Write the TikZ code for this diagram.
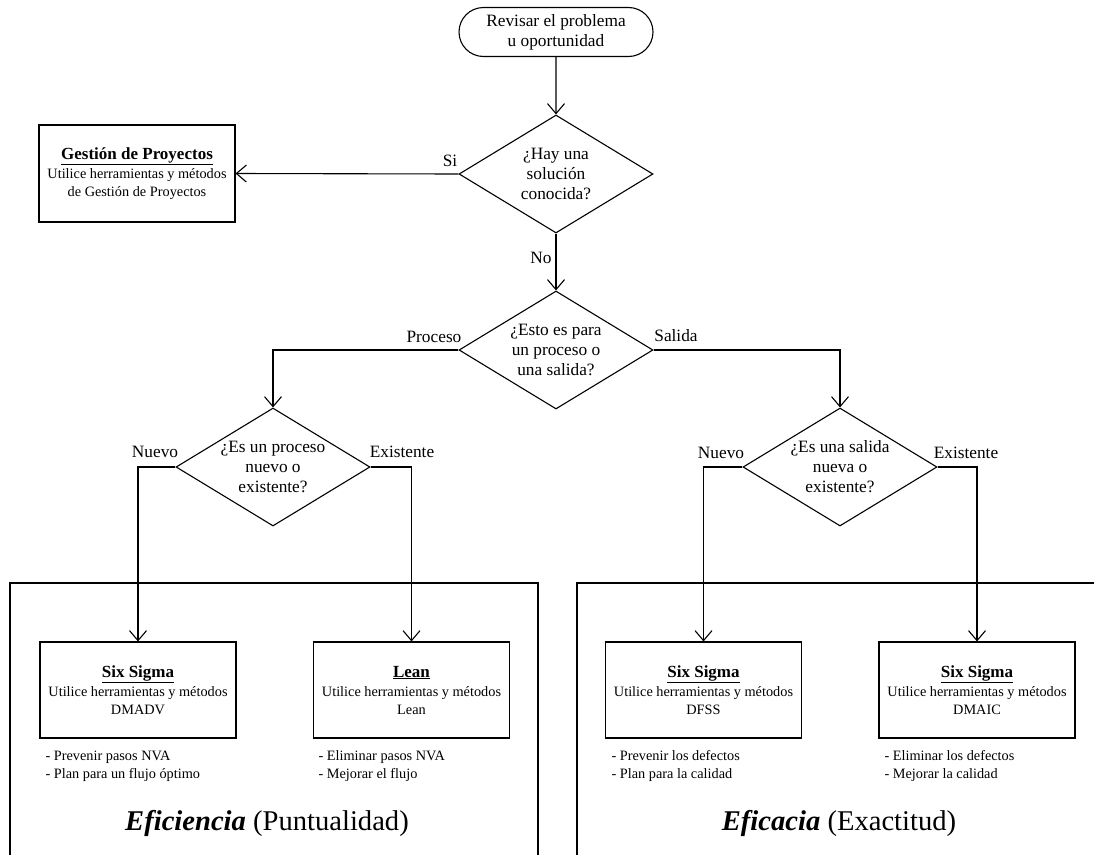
\documentclass[tikz,border=0pt]{standalone}
\usepackage{fontspec}
\setmainfont{Liberation Serif}
\usetikzlibrary{arrows.meta,shapes.geometric,shapes.misc}

\begin{document}
\begin{tikzpicture}[x=1pt,y=-1pt,line width=1.1pt,
  every node/.style={inner sep=0pt},
  txt/.style={font=\fontsize{17.3}{20}\selectfont,align=center},
  small/.style={font=\fontsize{14.3}{18}\selectfont,align=center},
  terminal/.style={draw,rounded rectangle,minimum width=194pt,minimum height=49pt,txt},
  decision/.style={draw,diamond,minimum width=194pt,minimum height=118pt},
  method/.style={draw,rectangle,minimum width=196pt,minimum height=96pt,small},
  bullets/.style={small,align=left,anchor=west},
  lbl/.style={txt},
  arr/.style={-{Straight Barb[length=10pt,width=17pt]}},
  big/.style={font=\fontsize{28.6}{34}\selectfont}
]
\newcommand{\ttl}[1]{{\fontsize{17}{21}\selectfont\bfseries\underline{#1}}}

\useasboundingbox (0,0) rectangle (1094,854);
\clip (0,0) rectangle (1094,854);

% start and decisions
\node[terminal] (start) at (556,32) {Revisar el problema\\u oportunidad};
\node[decision,label={[txt]center:{¿Hay una\\solución\\conocida?}}] (known) at (556,174) {};
\node[decision,label={[txt]center:{¿Esto es para\\un proceso o\\una salida?}}] (kind) at (556,350) {};
\node[decision,label={[txt]center:{¿Es un proceso\\nuevo o\\existente?}}] (proc) at (273,467) {};
\node[decision,label={[txt]center:{¿Es una salida\\nueva o\\existente?}}] (out) at (840,467) {};

% project management
\node[method,minimum height=97pt] (pm) at (137,173.5)
  {\ttl{Gestión de Proyectos}\\[1pt]Utilice herramientas y métodos\\de Gestión de Proyectos};

% bottom panels
\draw (10,583) rectangle (538,900);
\draw (577,583) rectangle (1150,900);

% method boxes
\node[method] (dmadv) at (138,690) {\ttl{Six Sigma}\\[1pt]Utilice herramientas y métodos\\DMADV};
\node[method] (lean) at (411.5,690) {\ttl{Lean}\\[1pt]Utilice herramientas y métodos\\Lean};
\node[method] (dfss) at (703.5,690) {\ttl{Six Sigma}\\[1pt]Utilice herramientas y métodos\\DFSS};
\node[method] (dmaic) at (977,690) {\ttl{Six Sigma}\\[1pt]Utilice herramientas y métodos\\DMAIC};

% bullet notes
\node[bullets] (n1) at (45,766) {- Prevenir pasos NVA\\- Plan para un flujo óptimo};
\node[bullets] (n2) at (318,766) {- Eliminar pasos NVA\\- Mejorar el flujo};
\node[bullets] (n3) at (611,766) {- Prevenir los defectos\\- Plan para la calidad};
\node[bullets] (n4) at (884,766) {- Eliminar los defectos\\- Mejorar la calidad};

% panel captions
\node[big] (eff) at (267,823) {\textbf{\textit{Eficiencia}} (Puntualidad)};
\node[big] (acc) at (839,823) {\textbf{\textit{Eficacia}} (Exactitud)};

% connectors
\draw[arr] (start) -- (known);
\draw[arr] (known.west) -- (pm.east);
\draw[arr] (known) -- (kind);
\draw[arr] (kind.west) -| (proc.north);
\draw[arr] (kind.east) -| (out.north);
\draw[arr] (proc.west) -| (dmadv.north);
\draw[arr] (proc.east) -| (lean.north);
\draw[arr] (out.west) -| (dfss.north);
\draw[arr] (out.east) -| (dmaic.north);

% branch labels
\node[lbl] (lsi) at (450,161) {Si};
\node[lbl] (lno) at (541,258) {No};
\node[lbl] (lproc) at (434,337) {Proceso};
\node[lbl] (lsal) at (676,336) {Salida};
\node[lbl] (lnew1) at (155,452) {Nuevo};
\node[lbl] (lex1) at (402,452) {Existente};
\node[lbl] (lnew2) at (721,453) {Nuevo};
\node[lbl] (lex2) at (966,453) {Existente};
\end{tikzpicture}
\end{document}
